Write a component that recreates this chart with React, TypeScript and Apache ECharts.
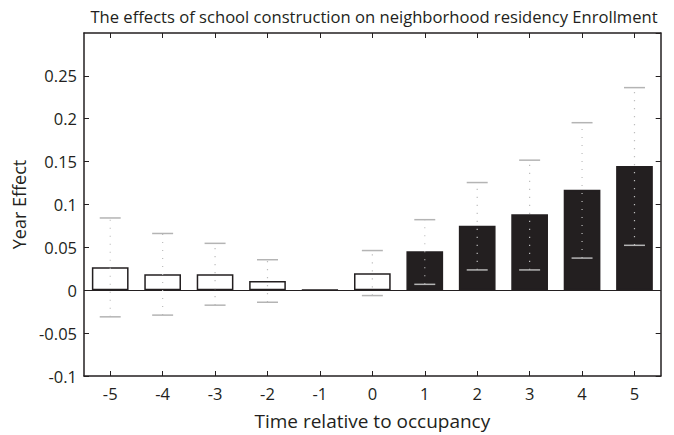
import React, { useEffect, useRef } from "react";
import * as echarts from "echarts";

const categories = ["-5", "-4", "-3", "-2", "-1", "0", "1", "2", "3", "4", "5"];
const effects = [0.0268, 0.0187, 0.0187, 0.0107, 0.0005, 0.0199, 0.0455, 0.0751, 0.0885, 0.1172, 0.1448];
const lowerCI = [-0.031, -0.029, -0.0174, -0.014, null, -0.0062, 0.0069, 0.0237, 0.0237, 0.0375, 0.0524];
const upperCI = [0.0843, 0.0662, 0.0547, 0.0356, null, 0.0463, 0.0823, 0.1256, 0.1517, 0.1954, 0.2363];
const postPeriods = ["1", "2", "3", "4", "5"];

const FONT = "Open Sans";
const DARK = "#231f20";

export default function App() {
  const ref = useRef<HTMLDivElement>(null);
  useEffect(() => {
    if (!ref.current) return;
    const chart = echarts.init(ref.current, undefined, { renderer: "svg" });
    const barData = effects.map((v, i) => {
      const post = postPeriods.includes(categories[i]);
      return {
        value: v,
        itemStyle: {
          color: post ? DARK : "#ffffff",
          borderColor: DARK,
          borderWidth: 1.5,
        },
      };
    });
    const errData = categories.map((c, i) => [i, lowerCI[i], upperCI[i]]);
    const axisLine = { show: true, onZero: false, lineStyle: { color: DARK, width: 1.5 } };
    const axisTick = { show: true, inside: true, length: 5, lineStyle: { color: DARK, width: 1 } };
    chart.setOption({
      animation: false,
      title: {
        text: "The effects of school construction on neighborhood residency Enrollment",
        left: 369,
        top: 3,
        textAlign: "center",
        textStyle: { fontFamily: FONT, fontSize: 16.6, fontWeight: "normal", color: DARK },
      },
      grid: { left: 84, right: 13.3, top: 33, bottom: 56, show: false },
      xAxis: [
        {
          type: "category",
          data: categories,
          position: "bottom",
          axisLine,
          axisTick: { ...axisTick, alignWithLabel: true },
          splitLine: { show: false },
          axisLabel: { fontFamily: FONT, fontSize: 16.5, color: DARK, margin: 9 },
          name: "Time relative to occupancy",
          nameLocation: "middle",
          nameGap: 35,
          nameTextStyle: { fontFamily: FONT, fontSize: 19, color: DARK },
        },
        {
          type: "category",
          data: categories,
          position: "top",
          axisLine,
          axisTick: { ...axisTick, alignWithLabel: true },
          splitLine: { show: false },
          axisLabel: { show: false },
        },
      ],
      yAxis: [
        {
          type: "value",
          min: -0.1,
          max: 0.3,
          interval: 0.05,
          position: "left",
          axisLine,
          axisTick,
          splitLine: { show: false },
          axisLabel: { fontFamily: FONT, fontSize: 16.5, color: DARK, margin: 7, showMaxLabel: false },
          name: "Year Effect",
          nameLocation: "middle",
          nameGap: 47,
          nameTextStyle: { fontFamily: FONT, fontSize: 18, color: DARK },
        },
        {
          type: "value",
          min: -0.1,
          max: 0.3,
          interval: 0.05,
          position: "right",
          axisLine,
          axisTick,
          splitLine: { show: false },
          axisLabel: { show: false },
        },
      ],
      series: [
        {
          type: "bar",
          data: barData,
          barWidth: "70%",
          xAxisIndex: 0,
          yAxisIndex: 0,
          z: 2,
          markLine: {
            silent: true,
            symbol: "none",
            label: { show: false },
            lineStyle: { color: DARK, width: 1.2, type: "solid" },
            data: [{ yAxis: 0 }],
          },
        },
        {
          type: "custom",
          xAxisIndex: 0,
          yAxisIndex: 0,
          z: 5,
          data: errData,
          encode: { x: 0, y: [1, 2] },
          renderItem: (params: any, api: any) => {
            const lo = api.value(1);
            const hi = api.value(2);
            if (lo == null || hi == null || isNaN(lo) || isNaN(hi)) return null;
            const i = api.value(0);
            const pLo = api.coord([i, lo]);
            const pHi = api.coord([i, hi]);
            const half = api.size([1, 0])[0] * 0.2;
            const col = "#b4b4b4";
            return {
              type: "group",
              children: [
                {
                  type: "line",
                  shape: { x1: pLo[0], y1: pLo[1], x2: pHi[0], y2: pHi[1] },
                  style: { stroke: "#bdbdbd", lineWidth: 1.2, lineDash: [1.2, 6.8] },
                },
                {
                  type: "line",
                  shape: { x1: pLo[0] - half, y1: pLo[1], x2: pLo[0] + half, y2: pLo[1] },
                  style: { stroke: col, lineWidth: 1.5 },
                },
                {
                  type: "line",
                  shape: { x1: pHi[0] - half, y1: pHi[1], x2: pHi[0] + half, y2: pHi[1] },
                  style: { stroke: col, lineWidth: 1.5 },
                },
              ],
            };
          },
        },
      ],
    });
    return () => chart.dispose();
  }, []);
  return (
    <div
      ref={ref}
      style={{ position: "absolute", left: 0, top: 0, width: 674, height: 435, background: "#fff" }}
    />
  );
}
